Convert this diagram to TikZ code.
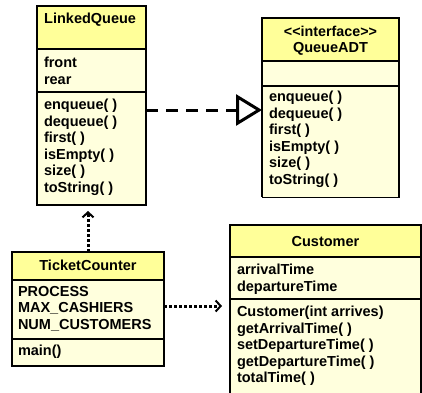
\documentclass[tikz,border=0pt]{standalone}
\usepackage{fontspec}
\setmainfont{Liberation Sans}
\usetikzlibrary{arrows.meta}
\definecolor{titlefill}{HTML}{FFFF99}
\definecolor{bodyfill}{HTML}{FFFFDD}
\begin{document}
\begin{tikzpicture}[x=1pt,y=-1pt,
  comp/.style={draw=black,line width=2pt,inner sep=0pt,outer sep=0pt,anchor=north west},
  ttl/.style={comp,fill=titlefill},
  bdy/.style={comp,fill=bodyfill},
  txt/.style={inner sep=0pt,outer sep=0pt,anchor=north west,align=left,font=\fontsize{14.5}{16.6}\selectfont\bfseries},
  ctxt/.style={inner sep=0pt,outer sep=0pt,anchor=base,align=center,font=\fontsize{14.5}{16.6}\selectfont\bfseries},
  link/.style={line width=3pt}]
\useasboundingbox (0,0) rectangle (422,392);
\begin{scope}
\clip (0,0) rectangle (422,392);
% LinkedQueue
\node[ttl,minimum width=109pt,minimum height=43pt] (lqt) at (37,6) {};
\node[bdy,minimum width=109pt,minimum height=43pt] (lqa) at (37,49) {};
\node[bdy,minimum width=109pt,minimum height=113pt] (lqm) at (37,92) {};
\node[inner sep=0pt,anchor=base west,font=\fontsize{14.5}{16.6}\selectfont\bfseries] (lqtt) at (44,23) {LinkedQueue};
\node[txt] (lqat) at (44,57) {front\\rear};
\node[txt] (lqmt) at (44,99) {enqueue( )\\dequeue( )\\first( )\\isEmpty( )\\size( )\\toString( )};
% QueueADT
\node[ttl,minimum width=137pt,minimum height=43pt] (qat) at (262,18) {};
\node[bdy,minimum width=137pt,minimum height=25pt] (qaa) at (262,61) {};
\node[bdy,minimum width=137pt,minimum height=111pt,line width=1pt] (qam) at (262,86) {};
\draw[line width=2pt] (qam.north west) -- (qam.south west) (qam.north east) -- (qam.south east);
\node[ctxt,font=\fontsize{14.3}{15}\selectfont\bfseries] (qatt1) at (330.5,36) {<{}<interface>{}>};
\node[ctxt] (qatt2) at (330.5,52) {QueueADT};
\node[txt] (qamt) at (269,91) {enqueue( )\\dequeue( )\\first( )\\isEmpty( )\\size( )\\toString( )};
% TicketCounter
\node[ttl,minimum width=152pt,minimum height=28pt] (tct) at (12,252) {};
\node[bdy,minimum width=152pt,minimum height=59pt] (tca) at (12,280) {};
\node[bdy,minimum width=152pt,minimum height=27pt] (tcm) at (12,339) {};
\node[ctxt] (tctt) at (88,270) {TicketCounter};
\node[txt] (tcat) at (18,286) {PROCESS\\MAX\_CASHIERS\\NUM\_CUSTOMERS};
\node[txt] (tcmt) at (18,345) {main()};
% Customer
\node[ttl,minimum width=191pt,minimum height=32pt] (cut) at (230,225) {};
\node[bdy,minimum width=191pt,minimum height=42pt] (cua) at (230,257) {};
\node[bdy,minimum width=191pt,minimum height=120pt] (cum) at (230,299) {};
\node[ctxt] (cutt) at (325.5,246) {Customer};
\node[txt] (cuat) at (237,264) {arrivalTime\\departureTime};
\node[txt] (cumt) at (237,306) {Customer(int arrives)\\getArrivalTime( )\\setDepartureTime( )\\getDepartureTime( )\\totalTime( )};
\end{scope}
% realization
\draw[link,dash pattern=on 12pt off 8pt,-{Triangle[open,length=26pt,width=31pt,line width=3pt,fill=white]}]
  (lqm.east |- {(0,110)}) -- (qam.west |- {(0,110)});
% dependencies
\draw[link,dash pattern=on 3pt off 2pt,-{Straight Barb[length=5pt,width=11pt,line width=2pt]},shorten >=6pt]
  (tct.north -| {(88,0)}) -- ({(88,0)} |- lqm.south);
\draw[link,dash pattern=on 3pt off 2pt,-{Straight Barb[length=5pt,width=11pt,line width=2pt]},shorten >=8pt]
  (tca.east |- {(0,306)}) -- (cum.west |- {(0,306)});
\end{tikzpicture}
\end{document}
